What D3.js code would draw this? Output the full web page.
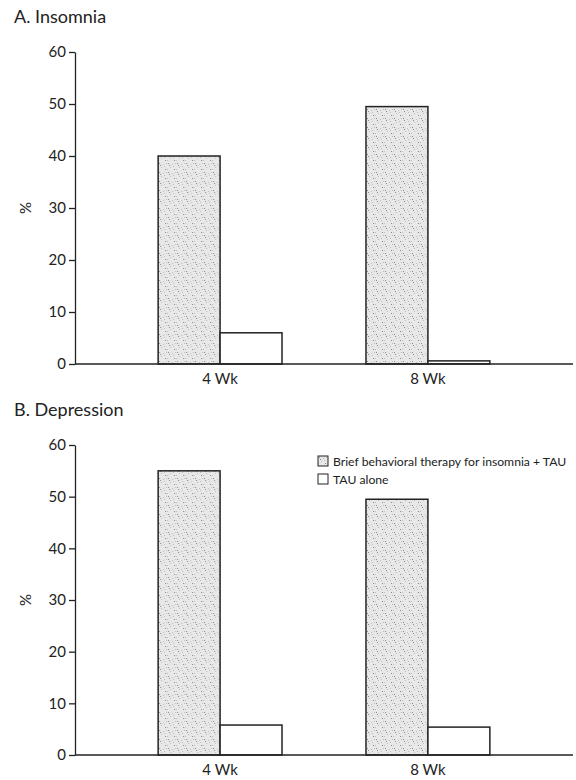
<!DOCTYPE html>
<html>
<head>
<meta charset="utf-8">
<script src="https://cdn.jsdelivr.net/npm/d3@7"></script>
<style>
  body { margin: 0; background: #fff; }
  svg text { font-family: Lato, "Open Sans", sans-serif; fill: #222; }
</style>
</head>
<body>
<script>
const width = 576;
const height = 780;

// Data
const categories = ["4 Wk", "8 Wk"];
const series = ["Brief behavioral therapy for insomnia + TAU", "TAU alone"];
const insomniaValues = [[40, 6], [49.5, 0.6]];
const depressionValues = [[55, 5.8], [49.5, 5.4]];
const yTicks = [0, 10, 20, 30, 40, 50, 60];

const svg = d3.select("body")
  .append("svg")
  .attr("width", width)
  .attr("height", height);

// Stipple fill for the treatment bars
const defs = svg.append("defs");
const pat = defs.append("pattern")
  .attr("id", "stipple")
  .attr("patternUnits", "userSpaceOnUse")
  .attr("width", 9)
  .attr("height", 9);
pat.append("rect").attr("width", 9).attr("height", 9).attr("fill", "#e8e8e8");
[[1, 1], [5, 2], [3, 5], [7, 7], [0, 7], [6, 4], [2, 3], [8, 1]].forEach(([px, py], i) => {
  pat.append("rect")
    .attr("x", px).attr("y", py)
    .attr("width", 1).attr("height", 1)
    .attr("fill", i % 3 === 0 ? "#8a8a8a" : "#bdbdbd");
});

const x = d3.scaleBand()
  .domain(categories)
  .range([75, 573])
  .paddingInner(0.404)
  .paddingOuter(0.4);

const sub = d3.scaleBand()
  .domain(series)
  .range([0, x.bandwidth()]);

function drawPanel(title, values, top, bottom) {
  const g = svg.append("g");
  const y = d3.scaleLinear().domain([0, 60]).range([bottom, top]);

  g.append("text")
    .attr("x", 14)
    .attr("y", top - 29)
    .attr("font-size", 18)
    .text(title);

  // y axis
  const yAxis = g.append("g")
    .attr("transform", "translate(75,0)")
    .call(d3.axisLeft(y).tickValues(yTicks).tickSize(6).tickSizeOuter(0).tickPadding(3));
  yAxis.attr("font-family", null).attr("font-size", null);
  yAxis.selectAll("path, line").attr("stroke", "#222").attr("stroke-width", 1.3);
  yAxis.selectAll("text").attr("font-size", 15).attr("fill", "#222");

  g.append("text")
    .attr("transform", `translate(31,${y(30)}) rotate(-90)`)
    .attr("text-anchor", "middle")
    .attr("font-size", 15)
    .text("%");

  // bars
  const groups = g.selectAll("g.grp")
    .data(categories)
    .enter()
    .append("g")
    .attr("class", "grp")
    .attr("transform", d => `translate(${x(d)},0)`);

  groups.selectAll("rect")
    .data((d, i) => series.map((s, j) => ({ s, v: values[i][j] })))
    .enter()
    .append("rect")
    .attr("x", d => sub(d.s))
    .attr("y", d => y(d.v))
    .attr("width", sub.bandwidth())
    .attr("height", d => y(0) - y(d.v))
    .attr("fill", (d, j) => j === 0 ? "url(#stipple)" : "#fff")
    .attr("stroke", "#222")
    .attr("stroke-width", 1.5);

  // x axis baseline
  g.append("line")
    .attr("x1", 75)
    .attr("x2", 573)
    .attr("y1", y(0))
    .attr("y2", y(0))
    .attr("stroke", "#222")
    .attr("stroke-width", 1.3);

  groups.append("text")
    .attr("x", x.bandwidth() / 2)
    .attr("y", y(0) + 20)
    .attr("text-anchor", "middle")
    .attr("font-size", 15)
    .text(d => d);

  return y;
}

drawPanel("A. Insomnia", insomniaValues, 52, 364);
drawPanel("B. Depression", depressionValues, 445, 755);

// Legend in panel B
const legend = svg.append("g")
  .selectAll("g")
  .data(series)
  .enter()
  .append("g")
  .attr("transform", (d, i) => `translate(318,${456 + i * 18})`);

legend.append("rect")
  .attr("width", 10)
  .attr("height", 10)
  .attr("fill", (d, i) => i === 0 ? "url(#stipple)" : "#fff")
  .attr("stroke", "#222")
  .attr("stroke-width", 1);

legend.append("text")
  .attr("x", 15)
  .attr("y", 10)
  .attr("font-size", 12.2)
  .text(d => d);
</script>
</body>
</html>
